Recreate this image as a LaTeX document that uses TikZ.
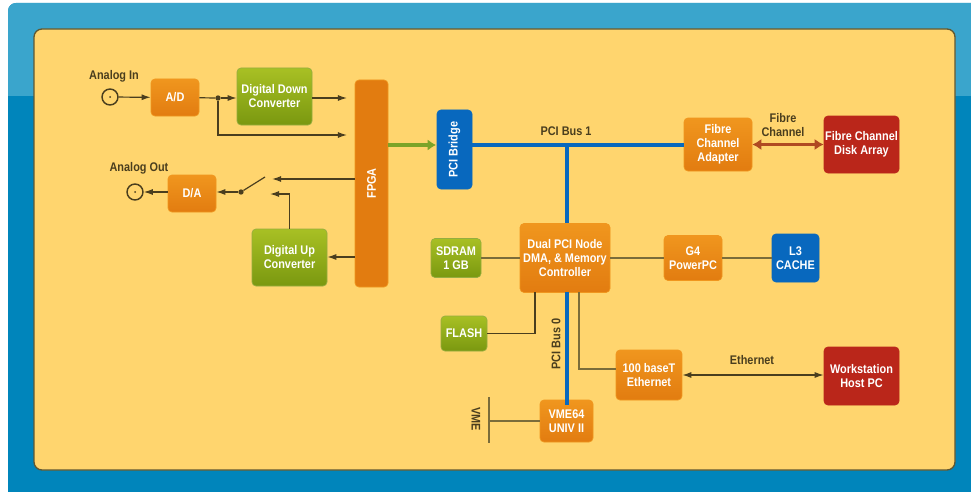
\documentclass[tikz,border=0pt]{standalone}
\usepackage{fontspec}
\setmainfont[FakeStretch=0.87]{Liberation Sans}
\usepackage{tikz}
\usetikzlibrary{arrows.meta,calc}
\definecolor{frametop}{RGB}{58,165,204}
\definecolor{framelow}{RGB}{0,133,187}
\definecolor{panelfill}{RGB}{255,213,110}
\definecolor{paneledge}{RGB}{96,88,50}
\definecolor{wirecol}{RGB}{74,62,30}
\definecolor{stubcol}{RGB}{122,108,58}
\definecolor{buscol}{RGB}{8,104,190}
\definecolor{fibrecol}{RGB}{176,74,34}
\definecolor{linkgreen}{RGB}{124,164,40}
\definecolor{orangetop}{RGB}{240,150,30}
\definecolor{orangelow}{RGB}{226,124,16}
\definecolor{greentop}{RGB}{168,192,36}
\definecolor{greenlow}{RGB}{122,152,16}
\definecolor{redfill}{RGB}{186,38,26}

\begin{document}
\begin{tikzpicture}[x=.75pt,y=.75pt,
  font=\fontsize{9.4}{10.5}\selectfont\bfseries,
  block/.style={rounded corners=3pt,align=center,text=white,inner sep=0pt,line width=.5pt},
  orangebox/.style={block,draw=orangetop,top color=orangetop,bottom color=orangelow},
  greenbox/.style={block,draw=greenlow!80!white,top color=greentop,bottom color=greenlow},
  redbox/.style={block,draw=redfill,fill=redfill},
  bluebox/.style={block,draw=buscol,fill=buscol},
  lbl/.style={text=wirecol,inner sep=0pt},
  wire/.style={draw=wirecol,line width=.9pt},
  stub/.style={draw=stubcol,line width=1.2pt},
  flow/.style={wire,-{Latex[length=2.4mm,width=1.6mm]}},
  twoway/.style={wire,{Latex[length=2.4mm,width=1.6mm]}-{Latex[length=2.4mm,width=1.6mm]}},
  bus/.style={draw=buscol,line width=3pt},
  jack/.style={circle,draw=wirecol,line width=1.1pt,minimum size=12pt,inner sep=0pt},
  tap/.style={circle,fill=wirecol,minimum size=4pt,inner sep=0pt}]

\path[use as bounding box] (0,0) rectangle (971,-492);
% frame and panel
\fill[framelow,rounded corners=6pt] (8,-3) rectangle (985,-506);
\begin{scope}
\clip[rounded corners=6pt] (8,-3) rectangle (985,-506);
\fill[frametop] (8,-3) rectangle (971,-96);
\end{scope}
\draw[fill=panelfill,draw=paneledge,line width=1pt,rounded corners=6pt] (34,-29) rectangle (955,-470);

% boxes
\node[orangebox,minimum width=36pt,minimum height=27.75pt] (ad) at (175,-97.5) {A/D};
\node[greenbox,minimum width=56.25pt,minimum height=42.75pt] (ddc) at (274.5,-96.5) {Digital Down\\Converter};
\node[orangebox,left color=orangelow,middle color=orangetop,right color=orangelow,minimum width=24.75pt,minimum height=155.25pt] (fpga) at (371.5,-183.5) {\rotatebox{90}{FPGA}};
\node[orangebox,minimum width=36pt,minimum height=27.75pt] (da) at (192,-193.5) {D/A};
\node[greenbox,minimum width=56.25pt,minimum height=42.75pt] (duc) at (289.5,-257.5) {Digital Up\\Converter};
\node[bluebox,minimum width=26.25pt,minimum height=59.25pt] (bridge) at (454.5,-149.5) {\rotatebox{90}{PCI Bridge}};
\node[orangebox,minimum width=51pt,minimum height=39.75pt] (adapter) at (718,-144.5) {Fibre\\Channel\\Adapter};
\node[redbox,minimum width=56.25pt,minimum height=42.75pt] (disk) at (861.5,-144.5) {Fibre Channel\\Disk Array};
\node[orangebox,minimum width=67.5pt,minimum height=51.75pt] (dual) at (565,-258) {Dual PCI Node\\DMA, \& Memory\\Controller};
\node[greenbox,minimum width=37.5pt,minimum height=29.25pt] (sdram) at (456,-258) {SDRAM\\1 GB};
\node[orangebox,minimum width=43.5pt,minimum height=33.75pt] (gfour) at (693,-258) {G4\\PowerPC};
\node[bluebox,minimum width=35.25pt,minimum height=36pt] (cache) at (795.5,-258) {L3\\CACHE};
\node[greenbox,minimum width=34.5pt,minimum height=26.25pt] (flash) at (464,-333.5) {FLASH};
\node[orangebox,minimum width=49.5pt,minimum height=37.5pt] (enet) at (649,-375) {100 baseT\\Ethernet};
\node[redbox,minimum width=56.25pt,minimum height=43.5pt] (host) at (861.5,-376) {Workstation\\Host PC};
\node[orangebox,minimum width=39.75pt,minimum height=31.5pt] (vme) at (566.5,-421) {VME64\\UNIV II};

% jacks
\node[jack] (jackin) at (110,-97) {};
\node[tap,minimum size=1.5pt] (jackindot) at (110,-97) {};
\node[jack] (jackout) at (135,-192) {};
\node[tap,minimum size=1.5pt] (jackoutdot) at (135,-192) {};

% labels
\node[lbl] (labin) at (114,-76) {Analog In};
\node[lbl] (labout) at (139,-168) {Analog Out};
\node[lbl] (labbusa) at (566,-131) {PCI Bus 1};
\node[lbl,rotate=90] (labbusb) at (556,-344) {PCI Bus 0};
\node[lbl,align=center] (labfibre) at (783,-125) {Fibre\\Channel};
\node[lbl] (labenet) at (752,-360) {Ethernet};
\node[lbl,rotate=-90] (labvme) at (476,-419) {VME};

% free ends
\coordinate (ddcend) at (347,-98);
\coordinate (rawend) at (347,-135);
\node[tap] (split) at (218,-98) {};
\node[tap] (pivot) at (241,-192) {};
\coordinate (blade) at (265,-177);
\coordinate (fromfpga) at (272,-179);
\coordinate (fromduc) at (270,-194);
\coordinate (fpgaout) at (355,-179);
\coordinate (fpgadown) at (355,-257);
\coordinate (fpgagreen) at (388,-145);
\coordinate (bridgegreen) at (436,-145);
\coordinate (bridgebus) at (472,-145);
\coordinate (adapterbus) at (684,-145);
\coordinate (busdrop) at (567,-145);
\coordinate (dualtop) at (567,-223);
\coordinate (dualbot) at (567,-292);
\coordinate (vmetop) at (567,-405);
\coordinate (dualflash) at (535,-292);
\coordinate (dualenet) at (579,-292);
\coordinate (enetin) at (616,-369);
\coordinate (vmebar) at (489,-421);
\coordinate (barup) at (489,-397);
\coordinate (bardown) at (489,-443);

% connectors
\draw[flow] (jackin) -- (ad);
\draw[wire] (ad) -- (split);
\draw[flow] (split) -- (ddc.west|-split);
\draw[flow] (ddc.east|-ddcend) -- (ddcend);
\draw[flow] (split) |- (rawend);
\draw[flow] (fpgaout) -- (fromfpga);
\draw[flow] (fpgadown) -- (duc.east|-fpgadown);
\draw[flow] (duc.north) |- (fromduc);
\draw[wire] (pivot) -- (blade);
\draw[flow] (pivot) -- (da.east|-pivot);
\draw[flow] (da.west|-jackout) -- (jackout);
\draw[draw=linkgreen,line width=2.4pt,-{Latex[length=2.2mm,width=3mm]}] (fpgagreen) -- (bridgegreen);
\draw[bus] (bridgebus) -- (adapterbus);
\draw[bus] (busdrop) -- (dualtop);
\draw[bus] (dualbot) -- (vmetop);
\draw[draw=fibrecol,line width=2pt,{Latex[length=2.4mm,width=3mm]}-{Latex[length=2.4mm,width=3mm]}] (adapter.east) -- (disk.west);
\draw[stub] (sdram) -- (dual);
\draw[stub] (dual) -- (gfour);
\draw[stub] (gfour) -- (cache);
\draw[wire] (flash.east) -| (dualflash);
\draw[stub] (dualenet) |- (enetin);
\draw[twoway] (enet.east) -- (host.west|-enet.east);
\draw[stub] (vme.west) -- (vmebar);
\draw[stub] (barup) -- (bardown);
\end{tikzpicture}
\end{document}
